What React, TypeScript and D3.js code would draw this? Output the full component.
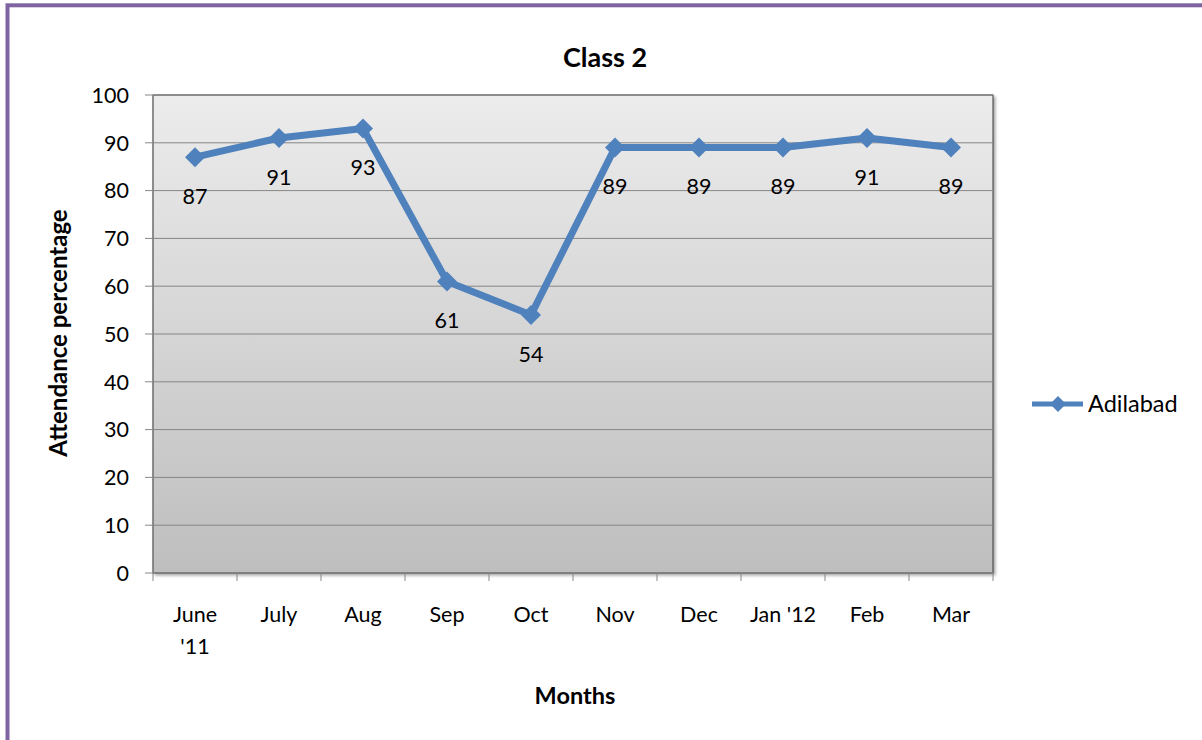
import React from "react";
import * as d3 from "d3";

const categories: string[][] = [["June", "'11"], ["July"], ["Aug"], ["Sep"], ["Oct"], ["Nov"], ["Dec"], ["Jan '12"], ["Feb"], ["Mar"]];
const seriesName = "Adilabad";
const values: number[] = [87, 91, 93, 61, 54, 89, 89, 89, 91, 89];
const yTicks: number[] = [0, 10, 20, 30, 40, 50, 60, 70, 80, 90, 100];

const W = 1202, H = 740;
const plot = { left: 153, top: 95, right: 993, bottom: 573 };
const FONT = "Lato, 'Open Sans', sans-serif";
const BLUE = "#4F81BD";

export default function App() {
  const x = d3.scaleBand<number>().domain(d3.range(categories.length)).range([plot.left, plot.right]);
  const y = d3.scaleLinear().domain([0, 100]).range([plot.bottom, plot.top]);
  const line = d3.line<number>().x((_, i) => (x(i) as number) + x.bandwidth() / 2).y(d => y(d));
  const diamond = (cx: number, cy: number, r: number) => `M${cx},${cy - r}L${cx + r},${cy}L${cx},${cy + r}L${cx - r},${cy}Z`;
  const boundaries = d3.range(categories.length + 1).map(i => plot.left + i * x.step());

  return (
    <svg width={W} height={H} style={{ position: "absolute", left: 0, top: 0, background: "#fff" }} fontFamily={FONT}>
      <defs>
        <linearGradient id="bg" x1="0" y1="0" x2="0" y2="1">
          <stop offset="0" stopColor="#ececec" />
          <stop offset="1" stopColor="#bebebe" />
        </linearGradient>
        <filter id="sh" x="-5%" y="-5%" width="110%" height="110%">
          <feDropShadow dx="2" dy="2" stdDeviation="1.5" floodColor="#000" floodOpacity="0.35" />
        </filter>
      </defs>
      <rect x={7.5} y={5.3} width={W + 20} height={H + 20} fill="none" stroke="#8064A2" strokeWidth={4} />
      <text x={605} y={58} dy="0.35em" textAnchor="middle" fontSize={27} fontWeight="bold" fill="#000">Class 2</text>

      <rect x={plot.left} y={plot.top} width={plot.right - plot.left} height={plot.bottom - plot.top}
        fill="url(#bg)" stroke="#3a3a3a" strokeWidth={1} filter="url(#sh)" />
      {yTicks.filter(t => t > 0).map(t => (
        <line key={"g" + t} x1={plot.left} x2={plot.right} y1={y(t)} y2={y(t)} stroke="#868686" strokeWidth={1} />
      ))}
      <line x1={plot.left} x2={plot.left} y1={plot.top} y2={plot.bottom} stroke="#868686" />
      <line x1={plot.left} x2={plot.right} y1={plot.bottom} y2={plot.bottom} stroke="#868686" />
      {yTicks.map(t => (
        <g key={"y" + t}>
          <line x1={plot.left - 8} x2={plot.left} y1={y(t)} y2={y(t)} stroke="#868686" />
          <text x={129} y={y(t)} dy="0.36em" textAnchor="end" fontSize={21.5} fill="#000">{t}</text>
        </g>
      ))}
      {boundaries.map((b, i) => (
        <line key={"xt" + i} x1={b} x2={b} y1={plot.bottom} y2={plot.bottom + 8} stroke="#868686" />
      ))}
      {categories.map((c, i) => (
        <text key={"xl" + i} x={(x(i) as number) + x.bandwidth() / 2} y={614} dy="0.36em" textAnchor="middle" fontSize={21.5} fill="#000">
          {c.map((s, j) => <tspan key={j} x={(x(i) as number) + x.bandwidth() / 2} dy={j === 0 ? "0.36em" : 32}>{s}</tspan>)}
        </text>
      ))}

      <path d={line(values) || ""} fill="none" stroke={BLUE} strokeWidth={7} strokeLinejoin="round" />
      {values.map((v, i) => {
        const cx = (x(i) as number) + x.bandwidth() / 2;
        return (
          <g key={"p" + i}>
            <path d={diamond(cx, y(v), 10)} fill={BLUE} />
            <text x={cx} y={y(v) + 39} dy="0.36em" textAnchor="middle" fontSize={21.5} fill="#000">{v}</text>
          </g>
        );
      })}

      <text transform={`translate(58,333) rotate(-90)`} dy="0.36em" textAnchor="middle" fontSize={24} fontWeight="bold" fill="#000">Attendance percentage</text>
      <text x={575} y={696} dy="0.36em" textAnchor="middle" fontSize={23.5} fontWeight="bold" fill="#000">Months</text>

      <line x1={1032} x2={1083} y1={404} y2={404} stroke={BLUE} strokeWidth={5} />
      <path d={diamond(1058, 404, 8)} fill={BLUE} />
      <text x={1088} y={404} dy="0.36em" fontSize={23.5} fill="#000">{seriesName}</text>
    </svg>
  );
}
